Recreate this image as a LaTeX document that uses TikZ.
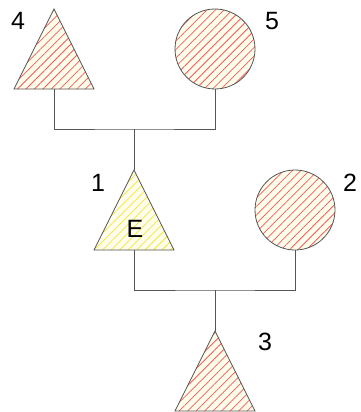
\documentclass[tikz,border=0pt]{standalone}
\usepackage{fontspec}
\setmainfont{Liberation Sans}
\usetikzlibrary{patterns.meta}
\definecolor{cream}{HTML}{FFFDEB}
\definecolor{hatchred}{HTML}{F55A5A}
\definecolor{hatchyellow}{HTML}{F2E63A}
\definecolor{edge}{HTML}{555555}
\tikzset{
  redshape/.style={draw=edge, line width=0.8pt, preaction={fill=cream},
    pattern={Lines[angle=45,distance=6pt,line width=0.75pt]}, pattern color=hatchred},
  yellowshape/.style={draw=edge, line width=0.8pt, preaction={fill=cream},
    pattern={Lines[angle=45,distance=6pt,line width=0.75pt]}, pattern color=hatchyellow},
  conn/.style={draw=edge, line width=0.8pt},
  lbl/.style={font=\fontsize{25}{28}\selectfont, inner sep=0pt}
}
\begin{document}
\begin{tikzpicture}[x=1pt,y=-1pt]
\useasboundingbox (0,0) rectangle (361,412);
% shapes
\path[redshape] (54,9) -- (94,89) -- (14,89) -- cycle;
\coordinate (t4) at (54,89);
\path[redshape] (215,49) circle[radius=40];
\coordinate (c5) at (215,89);
\path[yellowshape] (134,170) -- (174,250) -- (94,250) -- cycle;
\coordinate (t1top) at (134,170);
\coordinate (t1) at (134,250);
\path[redshape] (295,210) circle[radius=40];
\coordinate (c2) at (295,250);
\path[redshape] (215,331) -- (255,411) -- (175,411) -- cycle;
\coordinate (t3) at (215,331);
% junctions
\coordinate (j1) at (134,129);
\coordinate (j2) at (215,290);
% connectors
\draw[conn] (t4) |- (j1) -| (c5);
\draw[conn] (j1) -- (t1top);
\draw[conn] (t1) |- (j2) -| (c2);
\draw[conn] (j2) -- (t3);
% labels
\node[lbl] (e) at (135,229) {E};
\node[lbl] (l1) at (98,183) {1};
\node[lbl] (l2) at (350,183) {2};
\node[lbl] (l3) at (265,342) {3};
\node[lbl] (l4) at (18,21) {4};
\node[lbl] (l5) at (272,21) {5};
\end{tikzpicture}
\end{document}
